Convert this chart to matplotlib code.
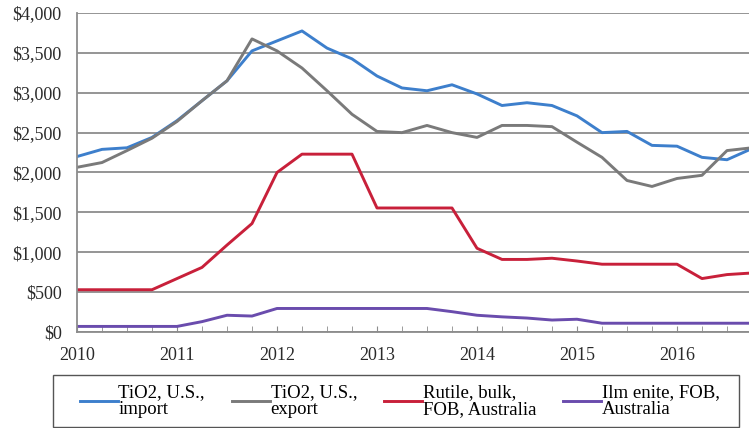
import numpy as np
import matplotlib.pyplot as plt
from matplotlib.patches import Rectangle
from matplotlib.ticker import FuncFormatter, MultipleLocator

plt.rcParams['font.family'] = ['Liberation Serif', 'DejaVu Serif']

# quarterly prices, 2010 Q1 onward ($/tonne)
quarters = 2010 + np.arange(28) / 4

tio2_import = [2200, 2290, 2310, 2440, 2650, 2900, 3150, 3525, 3650, 3775,
               3560, 3425, 3210, 3060, 3025, 3100, 2985, 2840, 2875, 2840,
               2710, 2500, 2515, 2340, 2330, 2190, 2160, 2300]
tio2_export = [2065, 2125, 2275, 2430, 2640, 2900, 3150, 3675, 3525, 3310,
               3025, 2730, 2515, 2500, 2590, 2500, 2440, 2590, 2590, 2575,
               2380, 2190, 1900, 1825, 1925, 1965, 2275, 2310]
rutile = [530, 530, 530, 530, 670, 810, 1090, 1360, 2000, 2230,
          2230, 2230, 1555, 1555, 1555, 1555, 1050, 910, 910, 925,
          890, 850, 850, 850, 850, 670, 720, 740]
ilmenite = [70, 70, 70, 70, 70, 130, 210, 200, 295, 295,
            295, 295, 295, 295, 295, 255, 210, 190, 175, 150,
            160, 110, 110, 110, 110, 110, 110, 110]

labels = ['TiO2, U.S.,\nimport', 'TiO2, U.S.,\nexport',
          'Rutile, bulk,\nFOB, Australia', 'Ilm enite, FOB,\nAustralia']
colors = ['#3d7fcc', '#7a7a7a', '#c8203a', '#6a4cad']

W, H = 749, 428
fig = plt.figure(figsize=(W / 100, H / 100), dpi=100)
ax = fig.add_axes([77 / W, 1 - 332 / H, 672 / W, 319 / H])

for ys, lab, c in zip([tio2_import, tio2_export, rutile, ilmenite], labels, colors):
    ax.plot(quarters, ys, color=c, lw=2.1, label=lab)

ax.set_xlim(2010, 2016.72)
ax.set_ylim(0, 4000)
ax.yaxis.set_major_locator(MultipleLocator(500))
ax.yaxis.set_major_formatter(FuncFormatter(lambda v, p: '${:,.0f}'.format(v)))
ax.xaxis.set_major_locator(MultipleLocator(1))
ax.xaxis.set_minor_locator(MultipleLocator(0.25))
ax.xaxis.set_major_formatter(FuncFormatter(lambda v, p: '%d' % v))

ax.grid(axis='y', color='#8c8c8c', lw=1.3)
ax.set_axisbelow(True)
for s in ['top', 'right']:
    ax.spines[s].set_visible(False)
for s in ['left', 'bottom']:
    ax.spines[s].set_color('#8c8c8c')
    ax.spines[s].set_linewidth(1.3)

ax.tick_params(axis='y', length=0, pad=11, labelsize=13, labelcolor='#2a2a2a')
ax.tick_params(axis='x', which='both', direction='in', length=4, color='#8c8c8c',
               pad=11, labelsize=13, labelcolor='#2a2a2a')

# legend entries without a frame, box drawn separately
leg = fig.legend(loc='upper left', ncol=4, frameon=False,
                 bbox_to_anchor=(80 / W, 1 - 384 / H),
                 borderpad=0, borderaxespad=0, fontsize=13.5,
                 handlelength=2.0, handletextpad=0.05, columnspacing=1.45)
for t in leg.get_texts():
    t.set_linespacing(1.0)
fig.patches.append(Rectangle((53 / W, 1 - 427 / H), 686 / W, 52 / H,
                             transform=fig.transFigure, fill=False,
                             edgecolor='#555555', lw=1.0))

fig.savefig('out.png', dpi=100)
